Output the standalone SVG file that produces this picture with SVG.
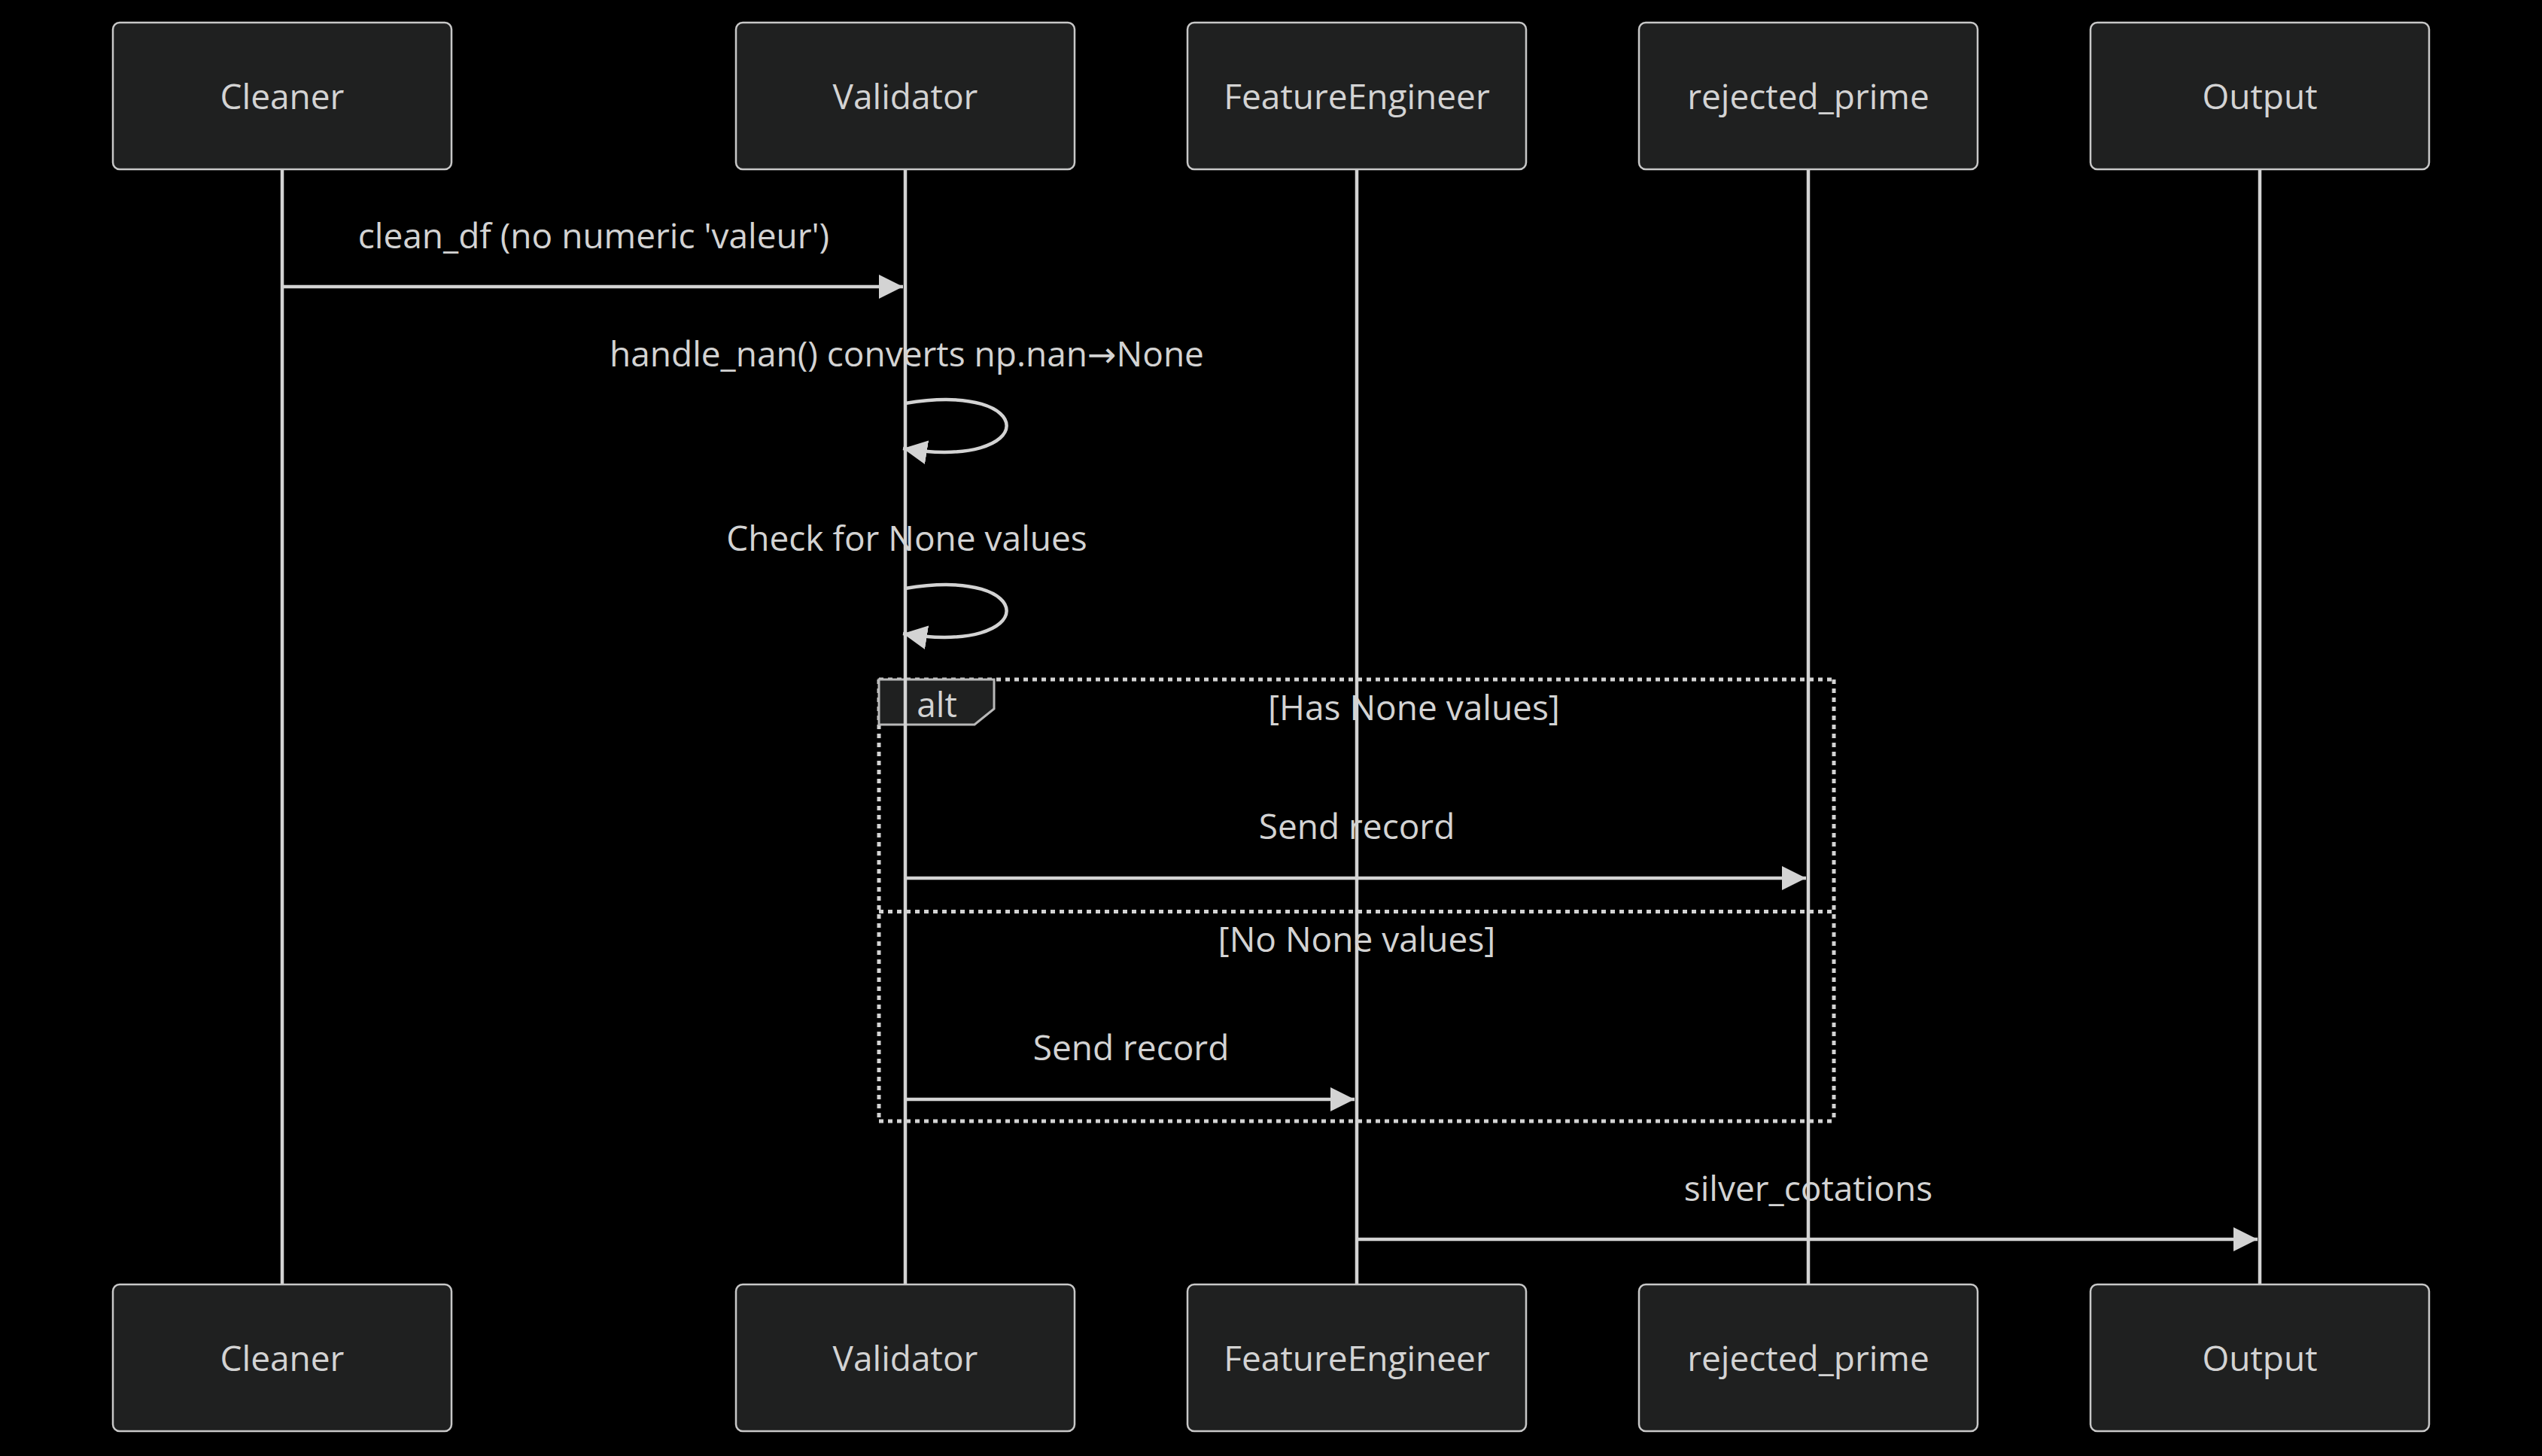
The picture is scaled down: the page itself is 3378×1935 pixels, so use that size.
<svg xmlns="http://www.w3.org/2000/svg" width="3378" height="1935" viewBox="0 0 3378 1935">
<style>
.bg{fill:#000}
.actor{fill:#1f2020;stroke:#c8c8c8;stroke-width:2.5}
.life{stroke:lightgrey;stroke-width:4.5}
.lbl{font-family:"Open Sans","Liberation Sans",sans-serif;font-size:46px;fill:#d3d3d3;text-anchor:middle}
.arr{font-family:"DejaVu Sans",sans-serif}
.msg{stroke:lightgrey;stroke-width:4.5;fill:none}
.frame{stroke:#d3d3d3;stroke-width:5;stroke-dasharray:6 6;fill:none}
.tag{fill:#1f2020;stroke:#b8b8b8;stroke-width:3}
</style>
<defs>
<marker id="ah" viewBox="0 0 10 10" refX="10" refY="5" markerUnits="userSpaceOnUse" markerWidth="32" markerHeight="32" orient="auto">
<path d="M0,0 L10,5 L0,10 z" fill="lightgrey"/>
</marker>
</defs>
<rect class="bg" x="0" y="0" width="3378" height="1935"/>

<g id="alt-frame">
<line class="frame" x1="1168" y1="903" x2="2437" y2="903"/>
<line class="frame" x1="2437" y1="903" x2="2437" y2="1490"/>
<line class="frame" x1="1168" y1="1490" x2="2437" y2="1490"/>
<line class="frame" x1="1168" y1="903" x2="1168" y2="1490"/>
<line class="frame" x1="1168" y1="1211.5" x2="2437" y2="1211.5"/>
<polygon class="tag" points="1168,903 1321,903 1321,942 1295,963 1168,963"/>
<text class="lbl" x="1245" y="953">alt</text>
<text class="lbl" x="1879" y="957">[Has None values]</text>
<text class="lbl" x="1803" y="1265">[No None values]</text>
</g>

<g id="connectors">
<text class="lbl" x="789" y="330">clean_df (no numeric 'valeur')</text>
<line class="msg" x1="375" y1="381" x2="1200" y2="381" marker-end="url(#ah)"/>
<text class="lbl" x="1205" y="487">handle_nan() converts np.nan<tspan class="arr">→</tspan>None</text>
<path class="msg" d="M1203,536 C1383,506 1383,626 1200,596" marker-end="url(#ah)"/>
<text class="lbl" x="1205" y="732">Check for None values</text>
<path class="msg" d="M1203,782 C1383,752 1383,872 1200,842" marker-end="url(#ah)"/>
<text class="lbl" x="1803" y="1115">Send record</text>
<line class="msg" x1="1203" y1="1167" x2="2400" y2="1167" marker-end="url(#ah)"/>
<text class="lbl" x="1503" y="1409">Send record</text>
<line class="msg" x1="1203" y1="1461" x2="1800" y2="1461" marker-end="url(#ah)"/>
<text class="lbl" x="2403" y="1596">silver_cotations</text>
<line class="msg" x1="1803" y1="1647" x2="3000" y2="1647" marker-end="url(#ah)"/>
</g>

<g id="Cleaner">
<line class="life" x1="375" y1="225" x2="375" y2="1707"/>
<rect class="actor" x="150" y="30" width="450" height="195" rx="9"/>
<text class="lbl" x="375" y="145">Cleaner</text>
<rect class="actor" x="150" y="1707" width="450" height="195" rx="9"/>
<text class="lbl" x="375" y="1822">Cleaner</text>
</g>
<g id="Validator">
<line class="life" x1="1203" y1="225" x2="1203" y2="1707"/>
<rect class="actor" x="978" y="30" width="450" height="195" rx="9"/>
<text class="lbl" x="1203" y="145">Validator</text>
<rect class="actor" x="978" y="1707" width="450" height="195" rx="9"/>
<text class="lbl" x="1203" y="1822">Validator</text>
</g>
<g id="FeatureEngineer">
<line class="life" x1="1803" y1="225" x2="1803" y2="1707"/>
<rect class="actor" x="1578" y="30" width="450" height="195" rx="9"/>
<text class="lbl" x="1803" y="145">FeatureEngineer</text>
<rect class="actor" x="1578" y="1707" width="450" height="195" rx="9"/>
<text class="lbl" x="1803" y="1822">FeatureEngineer</text>
</g>
<g id="rejected_prime">
<line class="life" x1="2403" y1="225" x2="2403" y2="1707"/>
<rect class="actor" x="2178" y="30" width="450" height="195" rx="9"/>
<text class="lbl" x="2403" y="145">rejected_prime</text>
<rect class="actor" x="2178" y="1707" width="450" height="195" rx="9"/>
<text class="lbl" x="2403" y="1822">rejected_prime</text>
</g>
<g id="Output">
<line class="life" x1="3003" y1="225" x2="3003" y2="1707"/>
<rect class="actor" x="2778" y="30" width="450" height="195" rx="9"/>
<text class="lbl" x="3003" y="145">Output</text>
<rect class="actor" x="2778" y="1707" width="450" height="195" rx="9"/>
<text class="lbl" x="3003" y="1822">Output</text>
</g>
</svg>
